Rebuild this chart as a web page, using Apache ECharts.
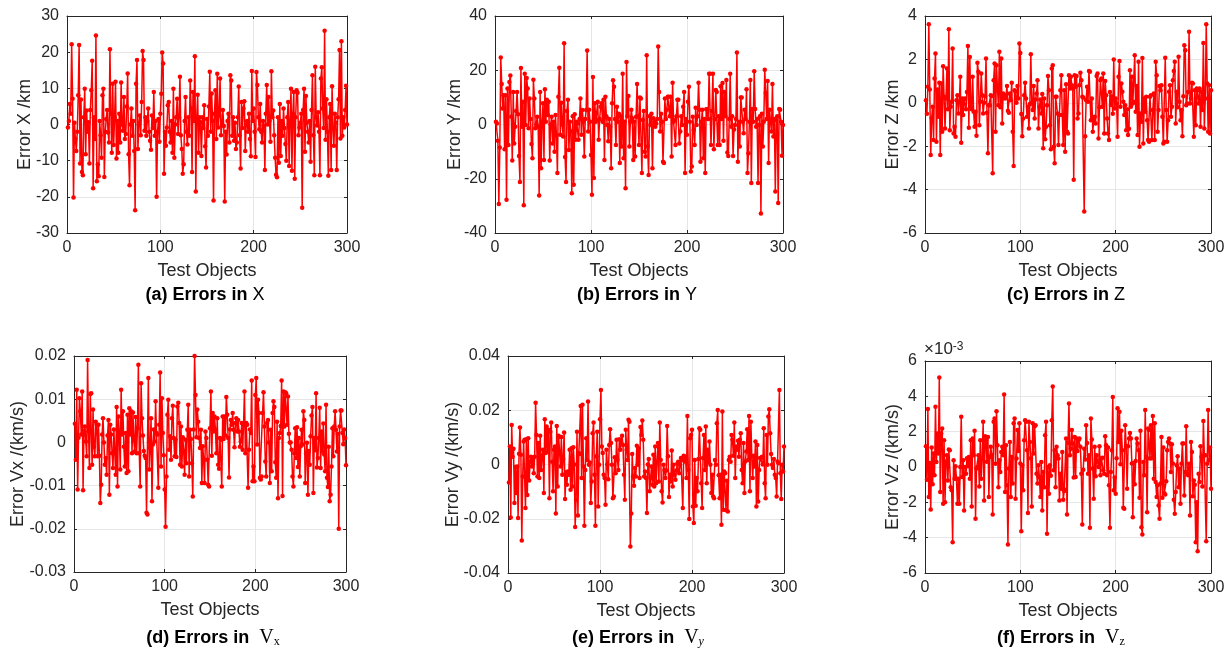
<!DOCTYPE html>
<html><head><meta charset="utf-8">
<script src="https://cdn.jsdelivr.net/npm/echarts@6.0.0/dist/echarts.min.js"></script>
<style>html,body{margin:0;padding:0;background:#fff}#c{width:1232px;height:655px}</style>
</head><body><div id="c"></div>
<script>
// ---------- data (300 test objects each) ----------
const xErr = [
-0.8,1,5.7,3,22.2,7.1,-20.2,0.5,-4,-7.3, -2,8.1,22,-10.8,6.9,-13.1,-14,2,9.9,-8.2,
3.9,-2,0.6,-10.8,4,9.5,17.6,-17.6,2,-4, 24.6,-15.7,-11,-14.3,1,-3,-9.2,8.1,9.9,-14.5,
-2,1.5,4,-2.2,-5,20.8,3,-7.8,11.3,-5.7, 2,11.8,-9.4,1,-7.8,3,-5,11.6,0,-1.7,
7.6,-4,-2.6,5,14.1,-8.2,-16.8,0,4.4,-3.1, 1,-7.3,-23.7,11.3,17.8,-6.8,0,2.5,-3,6.2,
20.3,17.8,-1.7,2,-3.1,1,4.4,-2,-4.5,-7, 2.5,-1,9,-3.1,1,-20,-2,1.5,-4.8,3,
8.5,19.9,16.9,-13.6,-2,-5.9,-0.8,5.3,6.2,-2, -5,1,-7.8,9.9,-9.2,0,2,7.1,-2.6,2,
13.2,-3,-6.8,-13.6,-11,1,7.6,-2,-5.5,2, -3.1,12.2,4.4,-13.1,9,1,18.9,-18.5,2,8.2,
-7.8,2,0.6,-8.7,2,-1,5.3,-6,-11.9,1.5, -3.1,5,14.6,-2,8.6,1,-21,3,9.5,-4,
14,-0.8,2.5,12.7,-3,-0.1,4,-0.4,-21.3,-2, -8.3,1,3,-5,13.6,12.2,-3.1,2,-4.5,0.5,
-6.8,-5,2,10.5,-3,-12.2,6.2,-1,4.4,6.4, -7.3,0,1,-2,3,-4,-8.8,14.8,1,4.4,
-2,-9,14.5,10.9,2,-1.3,5.7,-2,-5,1, -0.3,-12.6,3,10.9,0,7.6,1,-4.8,14.7,2,
3.9,-3,-9.2,-13.9,-14.6,2,-10.6,5.7,-8.7,1, -3.1,4.4,-1,-5.4,-10,2,6.2,-11.5,1,9.9,
-12.8,3,9,-15,2,9.5,8.8,-3,-0.8,0.5, 3,-23,4,9.9,-7.5,7.9,0.5,-2,-5,1,
-10.3,4,13.6,-3,-14,16,2,-0.3,3.4,-2, -14,12.7,15.8,4.4,-1,25.9,-4.2,7,-2,-14.2,
2,5.7,-12.6,10.6,-1,-5.9,3,0.5,-12.6,2, 7,20.6,-3.9,23,-3.1,2,-0.8,4,10.7,0
];
const yErr = [
1,0.4,-6,-29.3,-8.5,24.7,14.9,5.9,10.8,-9.1, 10.8,-27.7,13.3,-7.6,15.7,18.1,2.9,-13.3,12,-7,
-0.8,5,12,3.8,-11.6,-21.2,20.8,-0.8,8.4,-29.8, 18.7,-0.2,17.1,13.3,-1.4,9.6,2,-7.2,-12.4,16.5,
9.6,-1.4,0,2.9,-0.8,-26.2,12,-16.1,1,7.8, -13.1,13,1,9.1,3.5,8.4,-13.3,0,2.9,-7,
1,-10,3.5,-4,-17.9,10.2,20.9,-3.8,8,0, -4.4,30,-12,-21.2,5,9.1,-9.4,1,-2.6,-25.3,
3,-22.2,3.8,-5.6,1,0.4,-5.6,2,9.6,-3.8, 5.3,1,-11.8,2,5.3,27.3,-2.6,5.4,1,-11.2,
-25.9,17.5,-19.7,7.8,1,1.7,8.4,-5.6,2,6.5, 7.8,1,9.1,-13.1,10.2,3,-0.2,-6.2,2,-0.8,
-16.1,7.8,16.3,13.9,2,-7.6,6.5,1,4,-14.2, 3,-8.1,18.7,-12.4,1,-23.5,23,3,10.5,-8.1,
1,5.4,2.3,-13.1,1,-11.8,2.9,14.9,3,-7.6, 10,9.6,-17.9,1.7,5,-10,-11.8,25.5,-8.1,-18.6,
3,-0.2,4,-16.1,2.3,1,-0.8,0.4,2,28.8, 12,-2.6,4,1,-13.7,-14.2,9.6,2,5.4,10.2,
10.2,3,10.2,-11.8,15.4,1,1.7,-7.6,3,9.1, 9.1,-7,-2.6,3,-0.2,6.5,12,-17.9,2,-3.8,
8.4,13.9,1,-17.3,-15.5,2.9,-2,-7.6,6.2,-0.2, 3,15.4,5.4,-13.7,1,5.4,-12.4,2,-17.9,5.6,
5.6,2,18.7,18.7,-7.6,5,18.7,-9.1,2,12.7, 12,-7.6,3,-7.6,14.1,2,15.3,-6,12,3,
16.4,-10.3,-11.6,2,18.7,-0.8,3,-11.6,-1.8,-0.2, 2,26.5,-13.7,1,-8.1,10,10,1,-3.2,5.4,
2,13,-17.9,-10.6,1,16.4,-21.6,5.7,1,19.6, 5.7,-0.8,2,-21.6,-0.2,3,-32.8,4,-8.1,1,
20.2,11.6,2,16,-14.2,5.4,1,-2.6,14.9,-4.4, 2,-24.7,1.7,3,-28.9,5.7,5.4,1,-11.5,-0.2
];
const zErr = [
0.12,-0.5,0.74,3.62,0.61,-2.4,-0.7,-0.18,-1.72,1.12, 2.27,-1.79,0.61,-0.64,0.92,-2.4,0.89,-1.33,1.69,0.28,
-1.18,0.2,1.58,-0.3,3.39,-1.26,-0.18,0.05,2.5,-1.41, -1.1,-1.56,0.12,0.35,-0.49,0.05,1.2,-1.84,0.2,-0.56,
0.15,0.2,-0.3,0.5,2.62,-1.15,2.11,-0.18,-0.3,1.2, -0.41,-1.1,-0.41,-1.52,1.84,1.43,-1.03,0.05,1.35,0.35,
-0.49,0,0.3,2.04,-0.46,-2.33,-0.11,-0.11,0.35,0.31, -3.25,1.04,1.81,-1.33,1.73,0.66,-0.11,2.35,-0.21,2.04,
-0.95,0.43,0.25,0.2,0.35,0.77,-0.37,-0.46,0.43,0.12, 0.92,-1.33,-2.91,0.58,0.51,0,0.77,0.2,2.73,2.3,
-0.52,-1.54,-0.72,0.35,0.92,0.2,-0.64,-0.18,-1.18,-0.06, 2.24,0,-0.33,0.77,-0.72,0.15,0.43,1.04,-1.18,-0.18,
0.15,-0.49,0.4,-2.1,0.2,-1.68,-1.1,-0.11,1.23,0.58, -1.03,-2.14,1.58,1.73,-2.02,-2.79,0.28,0.28,-0.49,-1.95,
-0.56,0.58,1.27,-0.56,-1.95,0.58,-2.25,0.86,-1.33,-1.41, 1.27,0.66,1.2,0.81,0.66,-3.55,1.27,0.74,1.23,-0.72,
-0.49,0.81,1.38,1.04,0.28,0.25,-5.01,-1.54,0.12,0.74, 0.05,1.47,1.43,-0.8,0.2,-1.33,-0.8,-0.64,-0.95,1.23,
1.35,-1.64,-0.21,1.04,1.12,-0.18,1.35,-1.41,1.01,0.35, -0.72,-1.41,-1.72,0.5,-0.1,0.3,-0.5,1.99,-0.26,0.2,
-0.03,-1.56,1.2,1.93,-0.18,0.89,0.51,0.05,-0.56,-0.11, -1.26,-0.3,-1.48,-1.2,1.5,-0.18,1.2,-0.03,0.05,2.19,
-0.41,0.77,-1.48,1.89,-2.02,-0.49,-0.87,2.07,-1.87,0.2, -0.41,0.28,-0.8,-1.72,-1.79,0.28,0.35,-1.72,-0.33,0.43,
-1.72,1.89,1.27,-1.33,-0.33,0.77,0.58,0.81,-0.64,-1.87, -1.79,2.08,-0.33,-1.79,-0.8,0.51,0.81,-0.64,-0.18,1.04,
1.47,1.89,-0.95,0.51,-0.2,2.12,0.05,-0.8,-0.33,-1.54, 0.3,2.65,2.42,-0.11,-0.03,0.5,3.27,-0.03,0.2,0.92,
0.89,-1.56,0.58,-1.03,0.66,0.58,-0.03,0.66,-1.1,0.51, -0.33,2.76,-1.18,0.2,3.62,0.89,-1.33,0.81,-1.41,0.58
];
// velocity errors, km/s
const vxErr = [
4.3e-3,-4e-3,12.2e-3,-10.9e-3,1.1e-3,10.2e-3,7.2e-3,1.8e-3,11.8e-3,-11.1e-3,2.6e-3,
3.7e-3,0.2e-3,-3.2e-3,19.1e-3,2.5e-3,-5.9e-3,11.2e-3,11.4e-3,-5.2e-3,7.6e-3,-1e-3,
-3.2e-3,4.8e-3,4.1e-3,-3.2e-3,4.1e-3,-3.1e-3,-14e-3,-9.8e-3,1.8e-3,5.6e-3,0,
-5.2e-3,-3.6e-3,-7.5e-3,1.6e-3,5.2e-3,-12.1e-3,4.1e-3,1.8e-3,-2.5e-3,-5.9e-3,3e-3,
-2.5e-3,-7.5e-3,8.2e-3,-10.2e-3,6e-3,2.2e-3,-6.3e-3,12.2e-3,1.8e-3,7.2e-3,-1e-3,
-5.6e-3,2.2e-3,-7.1e-3,6.4e-3,-6.7e-3,7.9e-3,1.8e-3,7.2e-3,-2.5e-3,6.9e-3,0.5e-3,
-2.1e-3,5.9e-3,-2.5e-3,3.3e-3,18e-3,-2.5e-3,-10.2e-3,13.7e-3,5.6e-3,1.6e-3,-2e-3,
-3.1e-3,-3.6e-3,-16.3e-3,-16.7e-3,14.9e-3,-6.3e-3,-1.3e-3,5.6e-3,-13.6e-3,-0.5e-3,3e-3,
0.2e-3,9.5e-3,2.2e-3,1.8e-3,-10.5e-3,4.1e-3,16.2e-3,-5.6e-3,10.2e-3,2.2e-3,-3e-3,
-10.9e-3,-19.5e-3,-7.9e-3,6.4e-3,9.9e-3,-1.7e-3,1.4e-3,-4e-3,5.6e-3,8.5e-3,1e-3,
-3.2e-3,0.6e-3,-3.4e-3,8.3e-3,9.2e-3,4.5e-3,-5.2e-3,3.7e-3,-5.6e-3,1.2e-3,-2e-3,
-7.5e-3,0.6e-3,-4.8e-3,2.9e-3,8.7e-3,-7.9e-3,2.9e-3,0.8e-3,-4.8e-3,-12.5e-3,
3e-3,20e-3,11e-3,1.2e-3,7.6e-3,4.8e-3,1e-3,-1.3e-3,2.9e-3,-9.4e-3,-0.9e-3,
-4e-3,-9.4e-3,2.5e-3,1e-3,-4e-3,-9.8e-3,-10.2e-3,3.3e-3,
11.8e-3,-3.1e-3,6.8e-3,2.5e-3,6e-3,2.9e-3,-2.5e-3,5.6e-3,-5.2e-3,-6.1e-3,1e-3,
0.6e-3,-10.2e-3,6e-3,0.8e-3,6e-3,1.6e-3,10.5e-3,6.4e-3,1e-3,-8.1e-3,3e-3,
5.2e-3,4.1e-3,6.8e-3,2.9e-3,-1.1e-3,4.5e-3,5.6e-3,2.5e-3,5.2e-3,2.5e-3,-1e-3,
0.2e-3,4.5e-3,-1.7e-3,4.1e-3,11.8e-3,-2.5e-3,4.5e-3,4.1e-3,-10.5e-3,-1.7e-3,3e-3,
2.2e-3,14.3e-3,-9e-3,-5.6e-3,-9e-3,11e-3,14.9e-3,-0.5e-3,9.9e-3,6.8e-3,
-8.2e-3,-8.6e-3,-7.9e-3,6.8e-3,11.6e-3,3.7e-3,-4.4e-3,-7.9e-3,4.5e-3,5.2e-3,0,
-9.4e-3,2.9e-3,-6.7e-3,6.8e-3,9.5e-3,8.2e-3,-4.6e-3,-8.2e-3,4.8e-3,-12.9e-3,1e-3,
2.2e-3,3.8e-3,14.3e-3,-12.4e-3,11.8e-3,3.7e-3,11.6e-3,11.4e-3,4.1e-3,10.6e-3,2e-3,
0,0,-1.7e-3,-7.9e-3,-10.2e-3,-2.5e-3,3.3e-3,-3.6e-3,3.5e-3,-5.7e-3,1e-3,
-7.9e-3,-0.9e-3,2.9e-3,-0.5e-3,7.2e-3,5.2e-3,-9.4e-3,-2.5e-3,-0.1e-3,-12.1e-3,-2e-3,
-5.2e-3,1.4e-3,6.2e-3,8.2e-3,-11.7e-3,1e-3,-1.8e-3,11.4e-3,-5.8e-3,-3.6e-3,1e-3,
8e-3,-5.9e-3,2.5e-3,-2.1e-3,4.4e-3,-2.8e-3,-6.7e-3,8.7e-3,-8.2e-3,-10.3e-3,-1e-3,
-13.6e-3,-12.1e-3,-5.6e-3,3.3e-3,-3.2e-3,3.7e-3,7.2e-3,2.9e-3,-2.1e-3,2e-3,-20e-3,
3.7e-3,7.4e-3,7.4e-3,2.2e-3,-0.4e-3,3e-3,1e-3,-5.3e-3
];
const vyErr = [
-6.6e-3,6.6e-3,-19.5e-3,14.6e-3,2.9e-3,5.8e-3,-14.2e-3,-0.9e-3,-10.5e-3,-0.7e-3,-19.7e-3,4e-3,
13.6e-3,3.6e-3,-28e-3,-4.4e-3,8.5e-3,9.1e-3,-16e-3,9.3e-3,-11.2e-3,9.7e-3,-5.9e-3,1e-3,
2.9e-3,-0.7e-3,2.4e-3,-3.2e-3,2.9e-3,22.8e-3,10.9e-3,-4.4e-3,7.9e-3,-5e-3,10.6e-3,-2e-3,
3.2e-3,5.4e-3,-10.5e-3,16.7e-3,4.2e-3,14e-3,4.8e-3,12.8e-3,-12.4e-3,12.1e-3,15.5e-3,1e-3,
-9.9e-3,5.4e-3,6.6e-3,-18.1e-3,14.2e-3,-8.1e-3,10.6e-3,10.1e-3,-0.7e-3,10.1e-3,-3.8e-3,2e-3,
11.8e-3,-12.7e-3,-2.9e-3,-7.5e-3,-2.6e-3,-3.8e-3,5.4e-3,-9.3e-3,6e-3,-8.1e-3,6.4e-3,0,
-23e-3,-13e-3,12.1e-3,-18.8e-3,4.2e-3,3.9e-3,21.6e-3,-5e-3,22e-3,-0.7e-3,-22.6e-3,-2e-3,
9.7e-3,1.7e-3,23.2e-3,-0.1e-3,0.7e-3,-14.2e-3,-6.3e-3,11.5e-3,15.5e-3,-3.8e-3,-22.6e-3,3e-3,
12.1e-3,-15.5e-3,-0.1e-3,16.7e-3,27.5e-3,6.6e-3,4.2e-3,-3.8e-3,-5e-3,-14.8e-3,5.4e-3,0,
-5.4e-3,7.2e-3,13e-3,7.9e-3,-0.1e-3,-12.4e-3,-11.8e-3,2.7e-3,-3.2e-3,9.1e-3,1.7e-3,-2e-3,
9.3e-3,5.4e-3,7.9e-3,10.6e-3,7.2e-3,-3.8e-3,-13e-3,12.8e-3,5.4e-3,1.7e-3,16.5e-3,15.8e-3,
-30.2e-3,-18.1e-3,3.9e-3,-4.4e-3,-7.8e-3,-1.3e-3,-4.4e-3,6.9e-3,-0.1e-3,6e-3,-5e-3,13.8e-3,10.9e-3,16.2e-3,9.1e-3,-4.4e-3,
-2.6e-3,-5e-3,-17.9e-3,0,2e-3,-9.9e-3,-5e-3,-0.7e-3,-7.5e-3,3.6e-3,-8.1e-3,6.6e-3,
-6.9e-3,1e-3,7.9e-3,-6.3e-3,15.5e-3,1.7e-3,-9.9e-3,-14e-3,-0.1e-3,-2e-3,
-5e-3,-2.2e-3,14.2e-3,3e-3,-12e-3,-3.8e-3,-6.3e-3,5.2e-3,-8.1e-3,-0.1e-3,
-3.8e-3,-5.6e-3,-2.2e-3,0.3e-3,1e-3,-3.2e-3,-0.1e-3,2.4e-3,1.7e-3,-16e-3,
3.2e-3,1.1e-3,2.9e-3,-5e-3,17.9e-3,-2e-3,-20.1e-3,9.7e-3,10.9e-3,12.8e-3,
-15.5e-3,-21.6e-3,1.7e-3,-15.2e-3,-5e-3,-9.9e-3,2e-3,13.4e-3,12.8e-3,-6.9e-3,
-16e-3,2.4e-3,10.9e-3,-2e-3,14e-3,-6.9e-3,5.4e-3,1e-3,8.5e-3,-0.1e-3,
-10.5e-3,-3.8e-3,-11.8e-3,-12.4e-3,1.7e-3,-0.1e-3,15.2e-3,20.1e-3,-4e-3,-12.4e-3,
-3.8e-3,-22.2e-3,19.5e-3,-16.7e-3,-2.6e-3,-3.2e-3,-16.9e-3,-6e-3,-17.3e-3,1.7e-3,
2.9e-3,1e-3,10.9e-3,9.1e-3,3.2e-3,15.5e-3,-5e-3,6.6e-3,5.4e-3,8.8e-3,
2.9e-3,9.1e-3,11.5e-3,-2e-3,-6.9e-3,7.9e-3,-10.5e-3,1.1e-3,4.8e-3,13e-3,
1.7e-3,17.9e-3,-9.9e-3,15.8e-3,3e-3,-5e-3,3.2e-3,-0.7e-3,8.5e-3,-15.5e-3,
7.2e-3,-13.6e-3,-2e-3,2.4e-3,2.4e-3,2.9e-3,0,13.4e-3,-6.9e-3,-12.4e-3,
10.9e-3,-0.1e-3,17.7e-3,20.4e-3,11.5e-3,3.9e-3,-0.1e-3,-1.3e-3,2e-3,-3.8e-3,
-5e-3,-11.8e-3,1.1e-3,0.5e-3,27.5e-3,-3.2e-3,-12.7e-3,-0.1e-3,-2.6e-3,6.6e-3
];
// Vz errors in units of 1e-3 km/s (axis shows x10^-3)
const vzErrE3 = [
1.18,-0.72,3.28,-1.7,0.23,-2.4,1.1,-0.98,0.76,-0.47,3.41,0.28,1.9,0.76,5.06,-1.42,1.9,2.18,-2.08,1.52,-1.99,0.3,
0.66,-0.76,0.99,0.95,-1.14,-1.32,-4.26,0.38,-0.66,0.04,-0.66,-2.08,-0.66,-2.08,0,2.84,-0.57,0.38,-2.46,0,-0.38,0.5,
0.04,0.57,-0.66,1.52,-2.23,1.61,0.66,2.05,-2.93,-0.09,0,0.66,-1.1,1.52,-0.66,0.48,2.56,-1.89,1.74,1.52,0.3,
1.7,-1.7,0.57,1.14,0.66,-2.69,2.56,2.75,0.19,3.16,1.23,-1.14,0.38,-0.28,0.85,1.14,0.66,4.11,-1.42,1.23,
-1.04,-4.39,-0.09,1.42,-1.7,0.57,-0.94,2.47,2.75,-1.8,0.48,2.09,0.9,2.47,0.2,
-3.64,0.1,-1.32,1.52,2.65,2.56,0.95,-2.61,2.56,1.42,0.5,-2.23,2.47,0.76,2.31,2.37,-0.38,-0.94,0.1,-0.57,
-1.7,0.28,-2.46,-0.28,-1.14,1.8,2.56,-3.78,0,-1.51,0.1,-0.5,2.65,4.55,-0.19,0.95,-1.14,1.14,0.66,0.48,
-1.89,-0.38,-1.23,0.85,-1.86,-1.36,-1.29,1.61,-2.69,
1.37,3.6,0.66,1.04,2.09,1.33,-0.6,1.7,-0.57,1.61, 0.9,1.52,1.61,1.14,-0.38,-3.26,-0.15,1.04,0.42,2.37,
1.36,-0.38,0.66,-3.44,2.75,1.56,-0.09,-1.8,1.14,-0.53, 0.66,0.3,0,1.18,-0.47,0.48,0.53,-0.19,-0.38,1.74,
1.23,-0.47,1.1,-1.04,-3.44,-0.28,0.95,3.96,-1.32,-0.6, -1.51,0.5,3.32,1.42,3.13,0.15,2.05,0.95,-2.31,-2.37,
2.37,1.18,-1.23,1.18,1.61,1.93,1.61,0.2,-2.84,0.23, -0.98,0.34,1.61,1.33,0.95,-1.74,2.05,-3.41,-3.82,0.28,
-0.47,3.22,0.57,-2.56,2.18,2.09,0.48,2.37,0.5,2.88, -0.66,2.47,-0.85,-1.7,-1.04,-2.18,-2.93,-0.94,1.7,-1.74,
1.1,-1.48,-1.55,-0.8,0.95,1.42,1.61,1.33,-0.28,1.29, 0.2,-1.85,-2.65,-1.42,0.1,0.61,-1.14,-0.09,-2.08,0.19,
1.33,1.33,-1.61,-0.28,2.31,-0.38,-0.47,0.19,-2.74,1.42, 0.85,-1.66,-0.76,-1,
-4.26,-1.99,-4.77,-0.38,-0.85,1.18,0.57,-1.1,2.61,0.66,0.66,-4.2,0.19,3.22,0.38,1.1,-1.23
];

const xTicks = {min: 0, max: 300, step: 100};
const panels = [
  {name: 'xErr', data: xErr, yMin: -30, yMax: 30, yStep: 10, yLabel: 'Error X /km'},
  {name: 'yErr', data: yErr, yMin: -40, yMax: 40, yStep: 20, yLabel: 'Error Y /km'},
  {name: 'zErr', data: zErr, yMin: -6, yMax: 4, yStep: 2, yLabel: 'Error Z /km'},
  {name: 'vxErr', data: vxErr, yMin: -0.03, yMax: 0.02, yStep: 0.01, yLabel: 'Error Vx /(km/s)'},
  {name: 'vyErr', data: vyErr, yMin: -0.04, yMax: 0.04, yStep: 0.02, yLabel: 'Error Vy /(km/s)'},
  {name: 'vzErr', data: vzErrE3, yMin: -6, yMax: 6, yStep: 2, yLabel: 'Error Vz /(km/s)'}
];
const captions = [
  '{b|(a) Errors in }{r|X}', '{b|(b) Errors in }{r|Y}', '{b|(c) Errors in }{r|Z}',
  '{b|(d) Errors in  }{v|V}{s|x}', '{b|(e) Errors in  }{v|V}{si|y}', '{b|(f) Errors in  }{v|V}{s|z}'
];
panels.forEach(p => { if (p.data.length !== 300) throw new Error(p.name + ' length ' + p.data.length); });

// ---------- layout ----------
const layout = [
  {grid: {left: 67, top: 16, width: 280, height: 217}, yGap: 33, cap: [205, 295]},
  {grid: {left: 495, top: 16, width: 288, height: 217}, yGap: 31, cap: [637, 295]},
  {grid: {left: 925, top: 16, width: 286, height: 217}, yGap: 23, cap: [1066, 295]},
  {grid: {left: 74, top: 356, width: 272, height: 216}, yGap: 47, cap: [213, 638]},
  {grid: {left: 508, top: 356, width: 276, height: 217}, yGap: 46, cap: [638, 638]},
  {grid: {left: 925, top: 361, width: 286, height: 212}, yGap: 23, cap: [1061, 638]}
];
const FONT = '"Liberation Sans", Arial, Helvetica, sans-serif';
const SERIF = '"Liberation Serif", "Times New Roman", serif';
const AX = '#262626';
const grids = [], xAxes = [], yAxes = [], series = [], graphics = [];
panels.forEach((p, i) => {
  const L = layout[i];
  grids.push(Object.assign({containLabel: false}, L.grid));
  const lineCommon = {show: true, onZero: false, lineStyle: {color: AX, width: 1}};
  const tickCommon = {show: true, inside: true, length: 3, lineStyle: {color: AX, width: 1}};
  xAxes.push({
    gridIndex: i, type: 'value', min: xTicks.min, max: xTicks.max, interval: xTicks.step, position: 'bottom',
    axisLine: lineCommon, axisTick: tickCommon,
    axisLabel: {color: AX, fontSize: 16, fontFamily: FONT, margin: 7},
    splitLine: {show: true, lineStyle: {color: '#e6e6e6', width: 1}},
    name: 'Test Objects', nameLocation: 'middle', nameGap: 29, nameMoveOverlap: false,
    nameTextStyle: {color: AX, fontSize: 18, fontFamily: FONT}
  });
  xAxes.push({
    gridIndex: i, type: 'value', min: xTicks.min, max: xTicks.max, interval: xTicks.step, position: 'top',
    axisLine: lineCommon, axisTick: tickCommon, axisLabel: {show: false}, splitLine: {show: false}
  });
  yAxes.push({
    gridIndex: i, type: 'value', min: p.yMin, max: p.yMax, interval: p.yStep, position: 'left',
    axisLine: lineCommon, axisTick: tickCommon,
    axisLabel: {color: AX, fontSize: 16, fontFamily: FONT, margin: 8},
    splitLine: {show: true, lineStyle: {color: '#e6e6e6', width: 1}},
    name: p.yLabel, nameLocation: 'middle', nameGap: L.yGap, nameRotate: 90, nameMoveOverlap: false,
    nameTextStyle: {color: AX, fontSize: 18, fontFamily: FONT}
  });
  yAxes.push({
    gridIndex: i, type: 'value', min: p.yMin, max: p.yMax, interval: p.yStep, position: 'right',
    axisLine: lineCommon, axisTick: tickCommon, axisLabel: {show: false}, splitLine: {show: false}
  });
  series.push({
    type: 'line', xAxisIndex: 2 * i, yAxisIndex: 2 * i,
    data: p.data.map((v, k) => [k + 1, v]),
    symbol: 'circle', symbolSize: 4.5, showSymbol: true, showAllSymbol: true,
    lineStyle: {color: '#ff0000', width: 1.5}, itemStyle: {color: '#ff0000'},
    silent: true, animation: false, clip: true
  });
  graphics.push({
    type: 'text', x: L.cap[0], y: L.cap[1],
    style: {
      text: captions[i], align: 'center', verticalAlign: 'middle', fill: '#000',
      rich: {
        b: {fontFamily: FONT, fontWeight: 'bold', fontSize: 18, fill: '#000'},
        r: {fontFamily: FONT, fontSize: 18, fill: '#000'},
        v: {fontFamily: SERIF, fontSize: 20, fill: '#000'},
        s: {fontFamily: SERIF, fontSize: 12, fill: '#000', verticalAlign: 'bottom', lineHeight: 8},
        si: {fontFamily: SERIF, fontStyle: 'italic', fontSize: 12, fill: '#000', verticalAlign: 'bottom', lineHeight: 8}
      }
    }
  });
});
graphics.push({
  type: 'text', x: 924, y: 349,
  style: {
    text: '{a|×10}{p|-3}', align: 'left', verticalAlign: 'middle', fill: AX,
    rich: {
      a: {fontFamily: FONT, fontSize: 17, fill: AX},
      p: {fontFamily: FONT, fontSize: 12, fill: AX, verticalAlign: 'top', lineHeight: 8}
    }
  }
});

const chart = echarts.init(document.getElementById('c'), null, {renderer: 'canvas'});
chart.setOption({
  animation: false, backgroundColor: '#fff',
  grid: grids, xAxis: xAxes, yAxis: yAxes, series: series, graphic: graphics
});
</script></body></html>
